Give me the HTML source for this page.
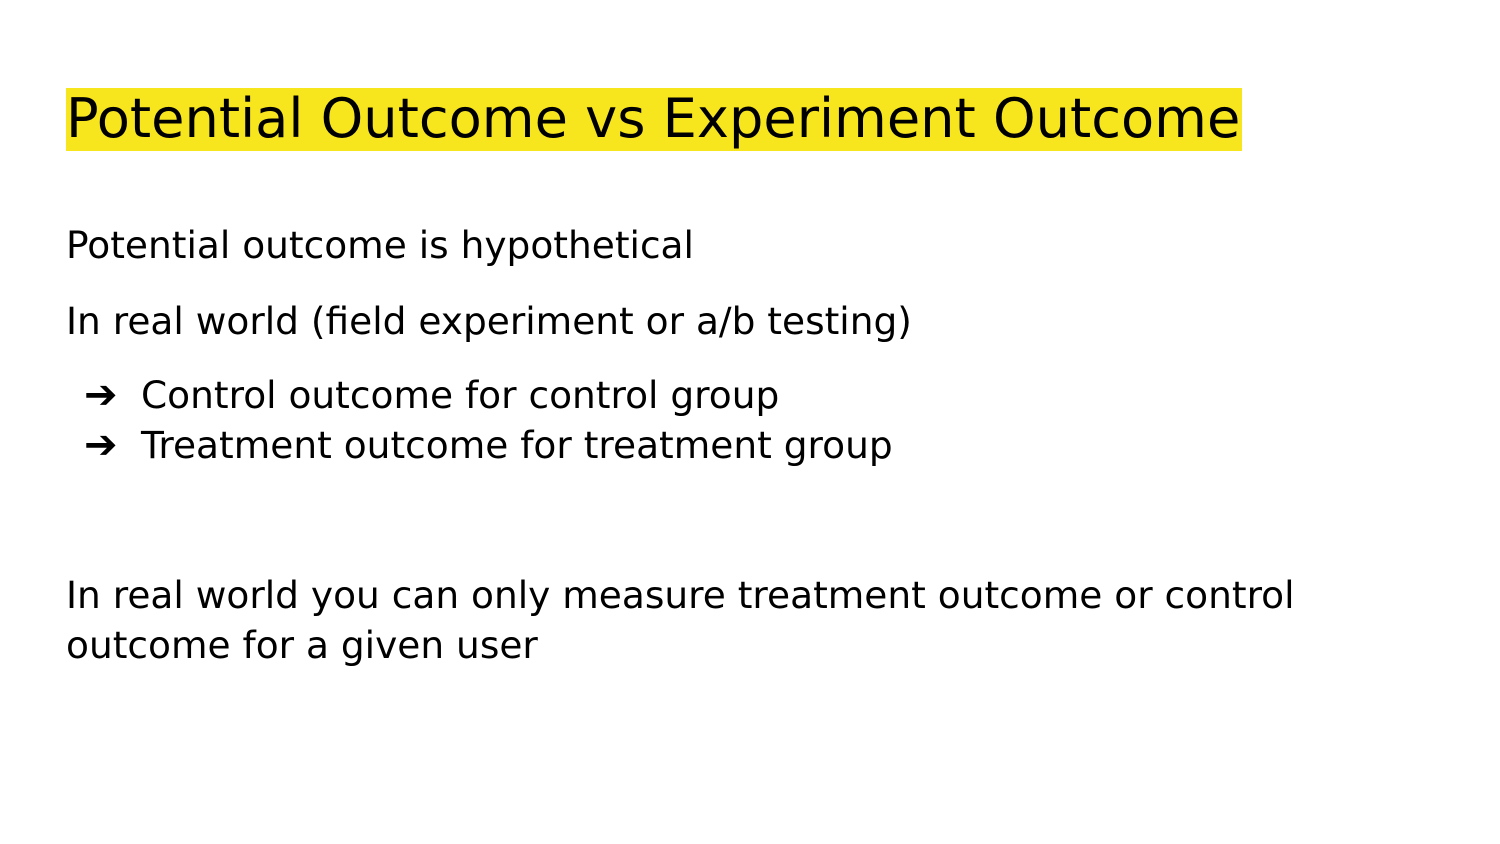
<!DOCTYPE html>
<html>
<head>
<meta charset="utf-8">
<style>
  html, body { margin:0; padding:0; background:#fff; }
  body { width:1500px; height:844px; position:relative; overflow:hidden;
         font-family:"DejaVu Sans","Liberation Sans",sans-serif; color:#000; }
  .t { position:absolute; white-space:nowrap; line-height:1; }
  .body { font-size:37.5px; }
</style>
</head>
<body>
  <div
       style="position:absolute;left:66px;top:88px;width:1176px;height:63px;background:#f7e61e;"></div>
  <div class="t"
       style="left:66px;top:92px;font-size:54.2px;">Potential Outcome vs Experiment Outcome</div>

  <div class="t body" style="left:66px;top:227px;">Potential outcome is hypothetical</div>
  <div class="t body" style="left:66px;top:303px;">In real world (field experiment or a/b testing)</div>

  <div class="t body" style="left:84px;top:375px;font-size:40px;">➔</div>
  <div class="t body" style="left:141px;top:377px;">Control outcome for control group</div>
  <div class="t body" style="left:84px;top:425px;font-size:40px;">➔</div>
  <div class="t body" style="left:141px;top:427px;">Treatment outcome for treatment group</div>

  <div class="t body" style="left:66px;top:577px;">In real world you can only measure treatment outcome or control</div>
  <div class="t body" style="left:66px;top:627px;">outcome for a given user</div>
</body>
</html>
